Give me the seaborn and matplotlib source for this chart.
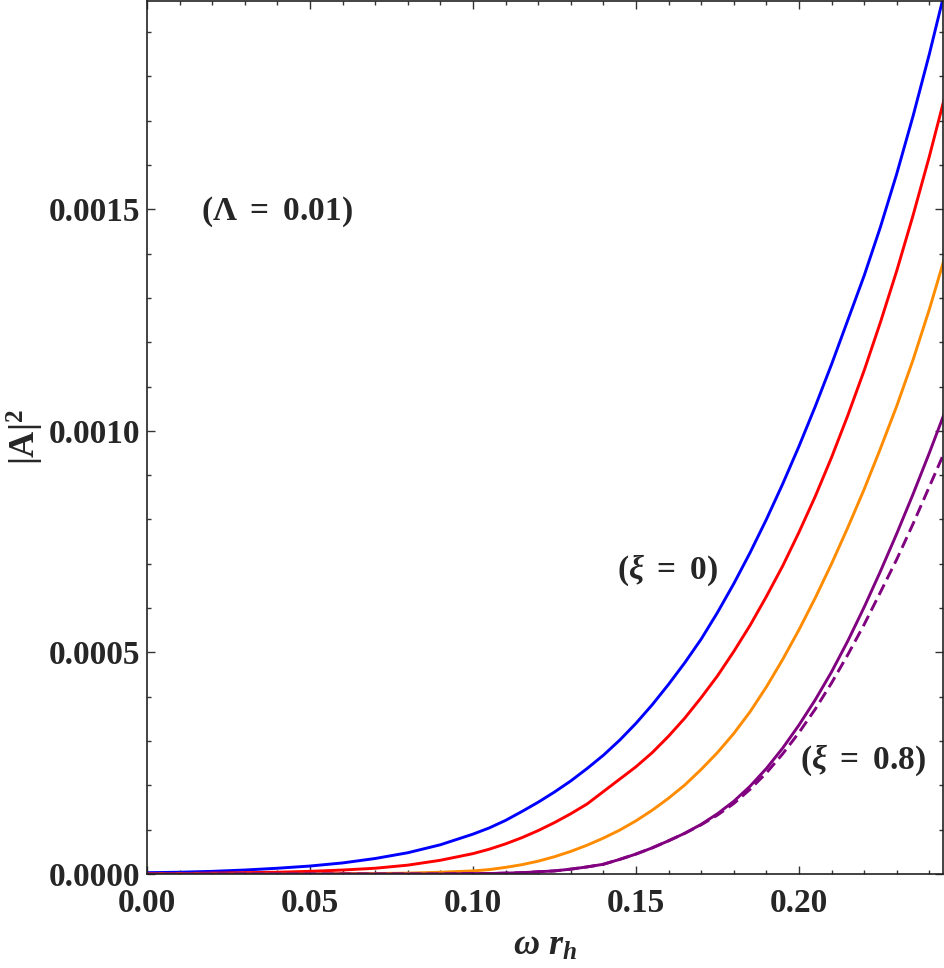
import numpy as np
import pandas as pd
import matplotlib
matplotlib.use('Agg')
import matplotlib.pyplot as plt
import seaborn as sns
from matplotlib.ticker import MultipleLocator, FormatStrFormatter

# omega * r_h
omega = [0.00, 0.01, 0.02, 0.03, 0.04, 0.05, 0.06, 0.07, 0.08, 0.09,
         0.100, 0.105, 0.110, 0.115, 0.120, 0.125, 0.130, 0.135, 0.140, 0.145,
         0.150, 0.155, 0.160, 0.165, 0.170, 0.175, 0.180, 0.185, 0.190, 0.195,
         0.200, 0.205, 0.210, 0.215, 0.220, 0.225, 0.230, 0.235, 0.240, 0.245]

# |A|^2, one list per curve
xi_0 = [0.000003, 0.000004, 0.000006, 0.000009, 0.000013, 0.000018, 0.000025, 0.000035, 0.000048, 0.000066,
        0.000090, 0.000104, 0.000121, 0.000141, 0.000162, 0.000185, 0.000210, 0.000238, 0.000268, 0.000302,
        0.000340, 0.000382, 0.000428, 0.000477, 0.000530, 0.000590, 0.000655, 0.000725, 0.000800, 0.000880,
        0.000965, 0.001055, 0.001150, 0.001250, 0.001350, 0.001460, 0.001580, 0.001710, 0.001850, 0.002000]
xi_1 = [0.000001, 0.000001, 0.000002, 0.000003, 0.000004, 0.000006, 0.000009, 0.000013, 0.000020, 0.000031,
        0.000046, 0.000056, 0.000068, 0.000082, 0.000098, 0.000116, 0.000136, 0.000158, 0.000186, 0.000214,
        0.000242, 0.000274, 0.000311, 0.000352, 0.000398, 0.000447, 0.000502, 0.000561, 0.000626, 0.000695,
        0.000771, 0.000852, 0.000940, 0.001035, 0.001136, 0.001245, 0.001361, 0.001486, 0.001619, 0.001761]
xi_2 = [0.0, 0.0, 0.0, 0.0, 0.0, 0.0, 0.000001, 0.000001, 0.000002, 0.000004,
        0.000007, 0.000010, 0.000015, 0.000021, 0.000029, 0.000039, 0.000051, 0.000065, 0.000081, 0.000099,
        0.000120, 0.000144, 0.000171, 0.000201, 0.000236, 0.000274, 0.000317, 0.000366, 0.000422, 0.000484,
        0.000551, 0.000623, 0.000700, 0.000782, 0.000868, 0.000960, 0.001056, 0.001160, 0.001274, 0.001398]
xi_08 = [0.0, 0.0, 0.0, 0.0, 0.0, 0.0, 0.0, 0.0, 0.0, 0.0,
         0.000001, 0.000001, 0.000002, 0.000003, 0.000005, 0.000007, 0.000011, 0.000016, 0.000022, 0.000033,
         0.000045, 0.000059, 0.000075, 0.000092, 0.000112, 0.000136, 0.000164, 0.000198, 0.000238, 0.000284,
         0.000336, 0.000393, 0.000456, 0.000526, 0.000602, 0.000683, 0.000768, 0.000857, 0.000950, 0.001047]
xi_08_approx = [0.0, 0.0, 0.0, 0.0, 0.0, 0.0, 0.0, 0.0, 0.0, 0.0,
                0.000001, 0.000001, 0.000002, 0.000003, 0.000005, 0.000007, 0.000011, 0.000016, 0.000022, 0.000033,
                0.000045, 0.000059, 0.000075, 0.000092, 0.000111, 0.000133, 0.000159, 0.000191, 0.000228, 0.000271,
                0.000319, 0.000372, 0.000431, 0.000495, 0.000563, 0.000636, 0.000710, 0.000790, 0.000874, 0.000958]

curves = [
    (xi_0, '#0000ff', '-'),
    (xi_1, '#ff0000', '-'),
    (xi_2, '#ff8c00', '-'),
    (xi_08, '#800080', '-'),
    (xi_08_approx, '#800080', (0, (4, 2))),
]

sns.set_style('ticks')
plt.rcParams['font.family'] = ['Liberation Serif', 'DejaVu Serif']
plt.rcParams['font.weight'] = 'bold'
plt.rcParams['mathtext.fontset'] = 'custom'
plt.rcParams['mathtext.rm'] = 'Liberation Serif:bold'
plt.rcParams['mathtext.bf'] = 'Liberation Serif:bold'
plt.rcParams['mathtext.it'] = 'Liberation Serif:italic:bold'

fig = plt.figure(figsize=(9.45, 9.68), dpi=100)
ax = fig.add_axes([0.1556, 0.0971, 0.8423, 0.9019])

for y, col, ls in curves:
    df = pd.DataFrame({'w': omega, 'A2': y})
    sns.lineplot(data=df, x='w', y='A2', color=col, linewidth=2.1,
                 linestyle=ls, ax=ax)

ax.set_xlim(0, 0.2442)
ax.set_ylim(0, 0.00197)

ax.xaxis.set_major_locator(MultipleLocator(0.05))
ax.xaxis.set_minor_locator(MultipleLocator(0.01))
ax.yaxis.set_major_locator(MultipleLocator(0.0005))
ax.yaxis.set_minor_locator(MultipleLocator(0.0001))
ax.xaxis.set_major_formatter(FormatStrFormatter('%.2f'))
ax.yaxis.set_major_formatter(FormatStrFormatter('%.4f'))
ax.tick_params(which='both', direction='in', top=True, right=True,
               labelsize=24, width=1.0, color='#333333')
ax.tick_params(which='major', length=6)
ax.tick_params(which='minor', length=3)
ax.tick_params(axis='x', pad=10)
ax.tick_params(axis='y', pad=5)
for lab in ax.get_xticklabels() + ax.get_yticklabels():
    lab.set_fontweight('bold')
for sp in ax.spines.values():
    sp.set_linewidth(1.2)
    sp.set_color('#222222')

ax.set_xlabel(r'$\omega\ r_h$', fontsize=26, labelpad=8)
ax.set_ylabel(r'$\mathbf{|A|}^{\mathbf{2}}$', fontsize=26, labelpad=2)

ax.text(0.040, 0.001495, r'$\mathbf{(\Lambda\ =\ 0.01)}$', fontsize=24,
        ha='center', va='center')
ax.text(0.1598, 0.000685, r'$\mathbf{(}\xi\mathbf{\ =\ 0)}$', fontsize=24,
        ha='center', va='center')
ax.text(0.2196, 0.000257, r'$\mathbf{(}\xi\mathbf{\ =\ 0.8)}$', fontsize=24,
        ha='center', va='center')

plt.savefig('out.png', dpi=100)
